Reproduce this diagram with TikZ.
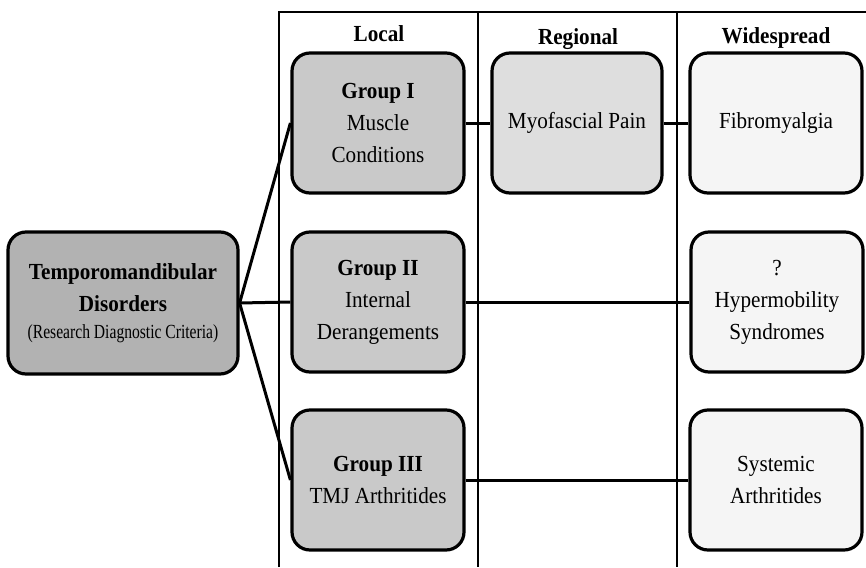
\documentclass[tikz,border=0pt]{standalone}
\usepackage{fontspec}
\setmainfont[FakeStretch=0.92]{Liberation Serif}
\newfontfamily\narrowfont[FakeStretch=0.78]{Liberation Serif}
\begin{document}
\begin{tikzpicture}[
        x=1pt, y=-1pt,
        line width=3pt,
        catbox/.style={draw=black, line width=3.2pt, rounded corners=18pt, align=center, inner sep=2pt,
            minimum width=172pt, minimum height=140pt,
            font=\fontsize{23}{32}\selectfont},
        rootbox/.style={catbox, fill=black!30, minimum width=230pt, minimum height=142pt},
        localbox/.style={catbox, fill=black!21},
        regionbox/.style={catbox, fill=black!13, minimum width=170pt},
        widebox/.style={catbox, fill=black!4},
        colhead/.style={font=\fontsize{23}{25}\selectfont\bfseries},
        colline/.style={line width=1.8pt},
        link/.style={line width=3pt}
    ]
    \useasboundingbox (0,0) rectangle (866,567);

    % ==========================================
    % COLUMNS: Local, Regional, Widespread
    % ==========================================
    \draw[colline] (279,567) -- (279,12) -- (866,12);
    \draw[colline] (478,12) -- (478,567);
    \draw[colline] (677,12) -- (677,567);

    \node[colhead] (hlocal) at (379,34) {Local};
    \node[colhead] (hregional) at (578,39) {Regional};
    \node[colhead] (hwide) at (776,38) {Widespread};

    % ==========================================
    % ROOT: RDC/TMD
    % ==========================================
    \node[rootbox] (tmd) at (123,303)
        {\textbf{Temporomandibular}\\\textbf{Disorders}\\[-5pt]{\narrowfont\fontsize{20}{22}\selectfont (Research Diagnostic Criteria)}};

    % ==========================================
    % LOCAL: Groups I--III
    % ==========================================
    \node[localbox] (grpone) at (378,123) {\textbf{Group I}\\Muscle\\Conditions};
    \node[localbox] (grptwo) at (378,302) {\textbf{Group II}\\Internal\\Derangements};
    \node[localbox] (grpthree) at (378,480) {\textbf{Group III}\\TMJ Arthritides};

    % ==========================================
    % REGIONAL and WIDESPREAD
    % ==========================================
    \node[regionbox] (myo) at (577,123) {Myofascial Pain};
    \node[widebox] (fibro) at (776,123) {Fibromyalgia};
    \node[widebox] (hyper) at (777,302) {?\\Hypermobility\\Syndromes};
    \node[widebox] (sysarth) at (776,480) {Systemic\\Arthritides};

    % connectors
    \draw[link] (tmd.east) -- (grpone.west);
    \draw[link] (tmd.east) -- (grptwo.west);
    \draw[link] (tmd.east) -- (grpthree.west);
    \draw[link] (grpone) -- (myo);
    \draw[link] (myo) -- (fibro);
    \draw[link] (grptwo) -- (hyper);
    \draw[link] (grpthree) -- (sysarth);

    \end{tikzpicture}
\end{document}
